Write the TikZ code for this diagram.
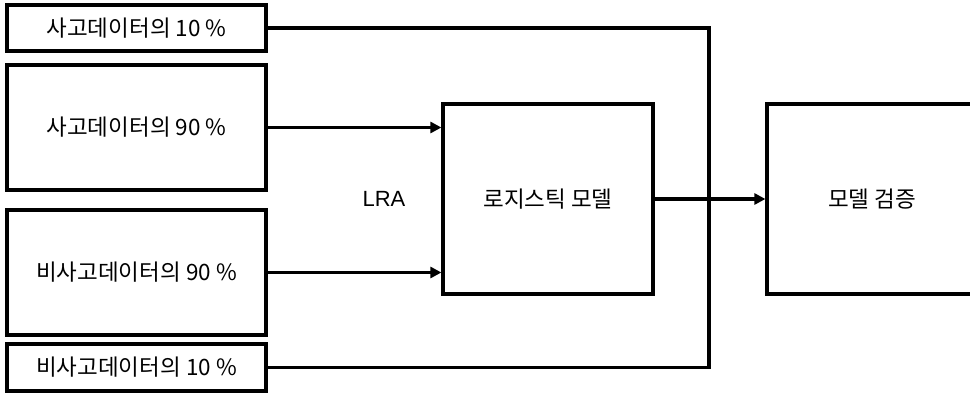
\documentclass[tikz,border=0pt]{standalone}
\usepackage{fontspec}
\newfontfamily\kr{Noto Sans CJK KR}
\newfontfamily\lat{Liberation Sans}
\usetikzlibrary{arrows.meta,calc}
\begin{document}
\begin{tikzpicture}[x=1pt,y=-1pt,
  box/.style={draw,line width=3.2pt,minimum width=259pt,inner sep=0pt,font=\kr\fontsize{22.5}{24}\selectfont},
  bigbox/.style={draw,line width=3.2pt,minimum width=210pt,minimum height=190pt,inner sep=0pt,font=\kr\fontsize{22.5}{24}\selectfont},
  conn/.style={line width=3.2pt},
  arr/.style={line width=3.2pt,-{Triangle[length=11pt,width=11pt]}}]
\useasboundingbox (0,0) rectangle (970,393);
\node[box,minimum height=46pt] (b1) at (136.5,28) {사고데이터의 10 \%};
\node[box,minimum height=125pt] (b2) at (136.5,127.5) {사고데이터의 90 \%};
\node[box,minimum height=125pt] (b3) at (136.5,272.5) {비사고데이터의 90 \%};
\node[box,minimum height=47pt] (b4) at (136.5,367.5) {비사고데이터의 10 \%};
\node[bigbox] (lg) at (548,199) {로지스틱 모델};
\node[bigbox] (mv) at (872,199) {모델 검증};
\node[font=\lat\fontsize{22}{24}\selectfont] (lra) at (384,199) {LRA};
\coordinate (c1) at (709,28);
\coordinate (c4) at (709,367.5);
\draw[conn] (b1.east) -- (c1) -- (c4) -- (b4.east);
\draw[arr] (b2.east) -- (lg.west |- b2.east);
\draw[arr] (b3.east) -- (lg.west |- b3.east);
\draw[arr] (lg.east) -- (mv.west);
\end{tikzpicture}
\end{document}
